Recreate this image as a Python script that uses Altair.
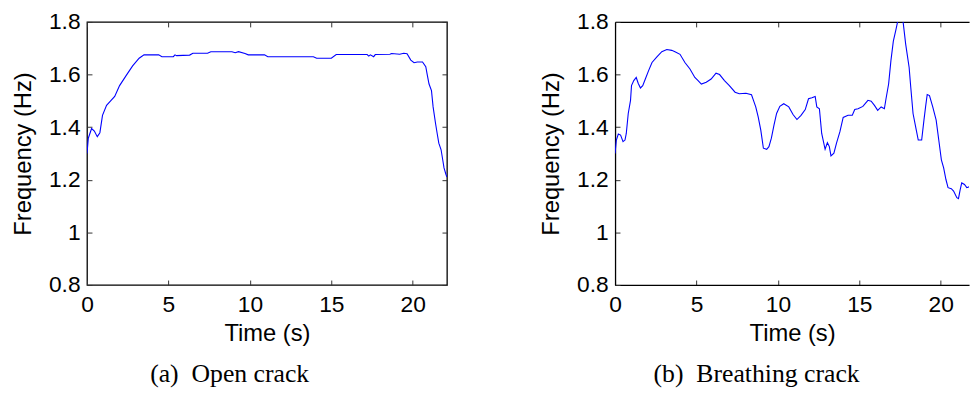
import altair as alt
import pandas as pd

# ---------------- data ----------------
t_open = [0.0, 0.08, 0.28, 0.45, 0.63, 0.79, 0.95, 1.2, 1.45, 1.7,
          2.0, 2.4, 2.8, 3.2, 3.5, 4.4, 4.6, 5.3, 5.4, 5.5,
          6.3, 6.5, 7.4, 7.6, 8.9, 9.1, 9.3, 9.7, 9.9, 10.9,
          11.1, 13.9, 14.1, 15.0, 15.3, 17.2, 17.3, 17.4, 17.6, 17.7,
          18.6, 18.7, 19.2, 19.45, 19.65, 19.88, 20.08, 20.28, 20.6, 20.8,
          20.9, 21.0, 21.15, 21.25, 21.4, 21.5, 21.6, 21.74, 21.84, 21.92,
          22.04, 22.1]
f_open = [1.30, 1.358, 1.395, 1.385, 1.364, 1.379, 1.445, 1.483, 1.500, 1.517,
          1.558, 1.596, 1.633, 1.662, 1.675, 1.675, 1.668, 1.668, 1.675, 1.672,
          1.674, 1.681, 1.681, 1.687, 1.687, 1.683, 1.687, 1.680, 1.675, 1.675,
          1.668, 1.668, 1.662, 1.662, 1.676, 1.676, 1.670, 1.675, 1.668, 1.676,
          1.677, 1.680, 1.677, 1.681, 1.679, 1.655, 1.645, 1.648, 1.648, 1.630,
          1.596, 1.564, 1.539, 1.477, 1.414, 1.376, 1.339, 1.314, 1.276, 1.245,
          1.22, 1.21]

t_breath = [0.0, 0.08, 0.2, 0.34, 0.49, 0.61, 0.69, 0.81, 0.95, 1.01,
            1.15, 1.3, 1.42, 1.56, 1.7, 1.86, 2.06, 2.27, 2.57, 2.87,
            3.18, 3.48, 3.68, 3.99, 4.29, 4.6, 4.9, 5.1, 5.3, 5.6,
            5.9, 6.2, 6.42, 6.72, 7.02, 7.37, 7.63, 8.04, 8.38, 8.5,
            8.64, 8.79, 8.95, 9.11, 9.31, 9.45, 9.6, 9.76, 9.92, 10.12,
            10.36, 10.67, 10.93, 11.17, 11.42, 11.68, 11.88, 12.09, 12.29, 12.39,
            12.55, 12.69, 12.9, 13.04, 13.16, 13.26, 13.44, 13.6, 13.81, 14.01,
            14.31, 14.57, 14.72, 14.92, 15.22, 15.53, 15.73, 15.93, 16.13, 16.34,
            16.54, 16.64, 16.8, 16.94, 17.09, 17.25, 17.35, 17.5, 17.69, 17.85,
            18.06, 18.16, 18.3, 18.5, 18.62, 18.83, 18.97, 19.07, 19.17, 19.31,
            19.51, 19.72, 19.88, 20.04, 20.18, 20.32, 20.45, 20.65, 20.79, 20.99,
            21.09, 21.19, 21.29, 21.46, 21.6, 21.74, 22.0]
f_breath = [1.30, 1.351, 1.374, 1.370, 1.345, 1.351, 1.376, 1.452, 1.502, 1.558,
            1.577, 1.589, 1.567, 1.549, 1.558, 1.583, 1.615, 1.646, 1.667, 1.687,
            1.695, 1.692, 1.687, 1.677, 1.646, 1.621, 1.589, 1.577, 1.564, 1.571,
            1.583, 1.605, 1.600, 1.577, 1.558, 1.533, 1.527, 1.529, 1.523, 1.502,
            1.477, 1.439, 1.389, 1.320, 1.316, 1.326, 1.358, 1.408, 1.452, 1.479,
            1.489, 1.477, 1.448, 1.429, 1.445, 1.467, 1.508, 1.512, 1.517, 1.477,
            1.470, 1.376, 1.316, 1.341, 1.326, 1.291, 1.301, 1.339, 1.383, 1.437,
            1.445, 1.445, 1.467, 1.470, 1.479, 1.502, 1.499, 1.483, 1.464, 1.477,
            1.470, 1.508, 1.564, 1.652, 1.727, 1.771, 1.800, 1.850, 1.800, 1.715,
            1.627, 1.552, 1.452, 1.389, 1.351, 1.351, 1.427, 1.477, 1.524, 1.520,
            1.477, 1.427, 1.351, 1.276, 1.245, 1.201, 1.170, 1.166, 1.157, 1.132,
            1.128, 1.161, 1.188, 1.182, 1.170, 1.173, 1.170]

x_ticks = [0, 5, 10, 15, 20]
y_ticks = [0.8, 1.0, 1.2, 1.4, 1.6, 1.8]

df_open = pd.DataFrame({"t": t_open, "f": f_open})
df_breath = pd.DataFrame({"t": t_breath, "f": f_breath})

FONT = "Liberation Sans"
SERIF = "Liberation Serif"
FS = 23
TFS = 24
TICK_COL = "#333333"
FRAME_W = 1.3


def lbl_fmt():
    return "datum.value == 1 ? '1' : format(datum.value, '.1f')"


def panel(df, xmax, width, caption, frame_via_view):
    ysc = alt.Scale(domain=[0.8, 1.8], nice=False, zero=False)
    xsc = alt.Scale(domain=[0, xmax], nice=False, zero=False)

    base = alt.Chart(df)

    main = base.mark_line(color="#0000FF", strokeWidth=1.1, clip=True).encode(
        x=alt.X("t:Q", scale=xsc, axis=alt.Axis(
            orient="bottom", values=x_ticks, offset=-5, tickSize=5, domain=False,
            grid=False, labelPadding=9, title="Time (s)", titlePadding=5,
            tickColor=TICK_COL, labelFlush=False,
            labelFont=FONT, labelFontSize=FS, labelColor="#000000",
            titleFont=FONT, titleFontSize=TFS, titleColor="#000000",
            titleFontWeight="normal")),
        y=alt.Y("f:Q", scale=ysc, axis=alt.Axis(
            orient="left", values=y_ticks, offset=-5, tickSize=5, domain=False,
            grid=False, labelPadding=7, title="Frequency (Hz)", titlePadding=13,
            tickColor=TICK_COL, labelExpr=lbl_fmt(), labelFlush=False,
            labelFont=FONT, labelFontSize=FS, labelColor="#000000",
            titleFont=FONT, titleFontSize=TFS, titleColor="#000000",
            titleFontWeight="normal")),
    )

    layers = [main]

    top_ax = alt.Axis(orient="top", values=x_ticks, offset=-5, tickSize=5, domain=False,
                      grid=False, labels=False, title=None, tickColor=TICK_COL)
    if frame_via_view:
        right_ax = alt.Axis(orient="right", values=y_ticks, offset=-5, tickSize=5,
                            domain=False, grid=False, labels=False, title=None,
                            tickColor=TICK_COL)
        ticks2 = base.mark_line(opacity=0).encode(
            x=alt.X("t:Q", scale=xsc, axis=top_ax, title=None),
            y=alt.Y("f:Q", scale=ysc, axis=right_ax, title=None),
        )
    else:
        ticks2 = base.mark_line(opacity=0).encode(
            x=alt.X("t:Q", scale=xsc, axis=top_ax, title=None),
            y=alt.Y("f:Q", scale=ysc, axis=None),
        )
    layers.append(ticks2)

    if not frame_via_view:
        dom_bl = base.mark_line(opacity=0).encode(
            x=alt.X("t:Q", scale=xsc, axis=alt.Axis(
                orient="bottom", domain=True, ticks=False, labels=False, grid=False,
                title=None, domainColor="#000000", domainWidth=FRAME_W)),
            y=alt.Y("f:Q", scale=ysc, axis=alt.Axis(
                orient="left", domain=True, ticks=False, labels=False, grid=False,
                title=None, domainColor="#000000", domainWidth=FRAME_W)),
        )
        dom_t = base.mark_line(opacity=0).encode(
            x=alt.X("t:Q", scale=xsc, axis=alt.Axis(
                orient="top", domain=True, ticks=False, labels=False, grid=False,
                title=None, domainColor="#000000", domainWidth=FRAME_W)),
            y=alt.Y("f:Q", scale=ysc, axis=None),
        )
        layers += [dom_bl, dom_t]

    ch = alt.layer(*layers).resolve_axis(x="independent", y="independent").properties(
        width=width, height=266,
        title=alt.TitleParams(caption, orient="bottom", font=SERIF, fontSize=26,
                              fontWeight="normal", color="#000000", offset=16,
                              anchor="middle", frame="bounds"),
    )
    if not frame_via_view:
        ch = ch.properties(view=alt.ViewBackground(stroke="transparent"))
    return ch


left = panel(df_open, 22.1, 364, "(a)\u00a0\u00a0Open crack", True)
right = panel(df_breath, 21.74, 358, "(b)\u00a0\u00a0Breathing crack", False)

chart = alt.hconcat(left, right, spacing=91).properties(
    padding={"left": 11, "top": 6, "right": 0, "bottom": 0},
    background="white",
).configure_view(
    stroke="#000000", strokeWidth=FRAME_W,
)

chart.save("out.html", embed_options={"renderer": "svg", "actions": False})
